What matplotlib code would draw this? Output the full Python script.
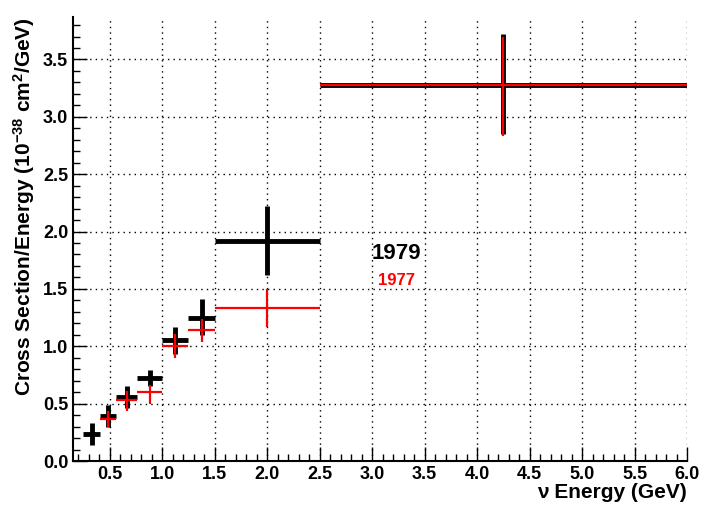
import matplotlib
matplotlib.use("Agg")
import matplotlib.pyplot as plt
import numpy as np

plt.rcParams['font.family'] = ['Liberation Sans', 'DejaVu Sans']
plt.rcParams['mathtext.fontset'] = 'custom'
plt.rcParams['mathtext.rm'] = 'Liberation Sans:bold'
plt.rcParams['mathtext.default'] = 'rm'

# 1979 data
x79 = [0.33, 0.485, 0.66, 0.88, 1.125, 1.375, 2.0, 4.25]
xlo79 = [0.25, 0.41, 0.56, 0.76, 1.0, 1.25, 1.5, 2.5]
xhi79 = [0.41, 0.56, 0.76, 1.0, 1.25, 1.5, 2.5, 6.0]
y79 = [0.235, 0.39, 0.56, 0.72, 1.056, 1.25, 1.92, 3.28]
ylo79 = [0.14, 0.30, 0.46, 0.65, 0.93, 1.10, 1.62, 2.85]
yhi79 = [0.33, 0.49, 0.65, 0.79, 1.17, 1.41, 2.22, 3.72]
# 1977 data
x77 = [0.485, 0.66, 0.88, 1.125, 1.375, 2.0, 4.25]
xlo77 = [0.41, 0.56, 0.76, 1.0, 1.25, 1.5, 2.5]
xhi77 = [0.56, 0.76, 1.0, 1.25, 1.5, 2.5, 6.0]
y77 = [0.37, 0.53, 0.60, 1.006, 1.14, 1.33, 3.28]
ylo77 = [0.30, 0.44, 0.50, 0.90, 1.04, 1.17, 2.83]
yhi77 = [0.44, 0.61, 0.66, 1.11, 1.24, 1.50, 3.70]

fig = plt.figure(figsize=(7.11, 5.13), dpi=100)
ax = fig.add_axes([73/711, 1-461/513, (687-73)/711, (461-17)/513])

def draw(x, xl, xh, y, yl, yh, color, lw):
    x, xl, xh, y, yl, yh = map(np.array, (x, xl, xh, y, yl, yh))
    ax.errorbar(x, y, xerr=[x-xl, xh-x], yerr=[y-yl, yh-y], fmt='none',
                ecolor=color, elinewidth=lw, capsize=0)

draw(x79, xlo79, xhi79, y79, ylo79, yhi79, 'black', 3.5)
draw(x77, xlo77, xhi77, y77, ylo77, yhi77, 'red', 1.6)

ax.set_xlim(0.15, 6.0)
ax.set_ylim(0, 3.87)
ax.set_xticks(np.arange(0.5, 6.01, 0.5))
ax.set_yticks(np.arange(0, 3.51, 0.5))
ax.set_xticks(np.arange(0.2, 6.01, 0.1), minor=True)
ax.set_yticks(np.arange(0, 3.87, 0.1), minor=True)
ax.xaxis.set_major_formatter(matplotlib.ticker.FormatStrFormatter('%.1f'))
ax.yaxis.set_major_formatter(matplotlib.ticker.FormatStrFormatter('%.1f'))
ax.grid(True, which='major', linestyle=(0, (1, 3)), color='black', linewidth=1)
ax.tick_params(which='both', direction='in', top=False, right=False, labelsize=13)
ax.tick_params(which='major', length=10, width=1)
ax.tick_params(which='minor', length=5, width=1)
for lab in ax.get_xticklabels() + ax.get_yticklabels():
    lab.set_fontweight('bold')
ax.spines['top'].set_visible(False)
ax.spines['right'].set_visible(False)
for s in ('left', 'bottom'):
    ax.spines[s].set_linewidth(1.5)
ax.set_xlabel('ν Energy (GeV)', fontsize=15, fontweight='bold', loc='right', labelpad=0)
ax.set_ylabel(r'Cross Section/Energy (10$^{-38}$ cm$^2$/GeV)', fontsize=15,
              fontweight='bold', loc='top', labelpad=4)
ax.text(3.23, 1.81, '1979', fontsize=16, fontweight='bold', ha='center', va='center')
ax.text(3.23, 1.57, '1977', fontsize=12, fontweight='bold', color='red', ha='center', va='center')
fig.savefig('out.png', dpi=100)
